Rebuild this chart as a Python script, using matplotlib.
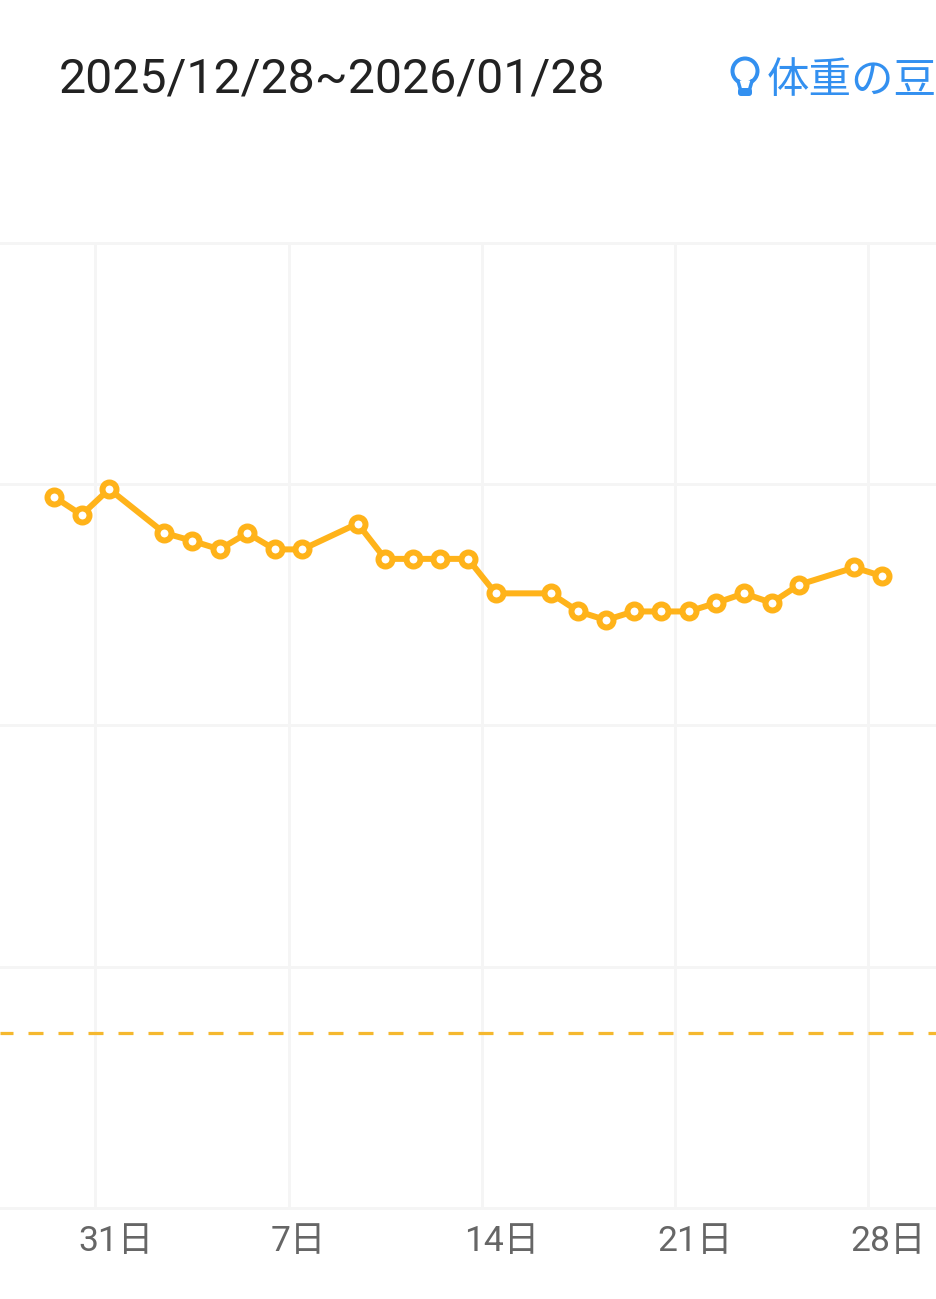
import matplotlib
matplotlib.use("Agg")
import matplotlib.pyplot as plt
from matplotlib.patches import Circle, FancyBboxPatch, Rectangle

date_range = "2025/12/28~2026/01/28"
link_text = "体重の豆"

# days counted from Dec 31 (Jan 7 = 7)
days = [-2, -1, 0, 2, 3, 4, 5, 6, 7, 9, 10, 11, 12, 13, 14, 16, 17, 18,
        19, 20, 21, 22, 23, 24, 25, 27, 28]
weights = [63.85, 63.64, 63.94, 63.43, 63.34, 63.24, 63.43, 63.24, 63.24,
           63.54, 63.13, 63.13, 63.13, 63.13, 62.73, 62.73, 62.52, 62.42,
           62.52, 62.52, 62.52, 62.62, 62.73, 62.62, 62.83, 63.03, 62.93]
target_weight = 57.635

tick_days = [0, 7, 14, 21, 28]
tick_labels = ["31日", "7日", "14日", "21日", "28日"]
y_grid = [55.6, 58.4, 61.2, 64.0, 66.8]

W, H = 936, 1299
px = 0.72
ORANGE = "#FFB31A"
GRID = "#F5F5F5"
BLUE = "#3390F0"
FONTS = ["Roboto", "Noto Sans CJK JP", "DejaVu Sans"]


def main():
    plt.rcParams["font.family"] = FONTS
    fig = plt.figure(figsize=(W / 100, H / 100), dpi=100, facecolor="white")
    ax = fig.add_axes([0, (H - 1208) / H, 1, (1208 - 242.5) / H])
    ax.set_xlim(-95.4 / 27.6, (W - 95.4) / 27.6)
    ax.set_ylim(55.6, 66.8)
    for s in ax.spines.values():
        s.set_visible(False)
    ax.tick_params(left=False, bottom=False, labelleft=False, labelbottom=False)

    for d in tick_days:
        ax.axvline(d, color=GRID, lw=3 * px, zorder=1)
    for v in y_grid:
        ax.axhline(v, color=GRID, lw=3 * px, zorder=1, clip_on=False)

    dash_lw = 3.2
    ax.plot([ax.get_xlim()[0], ax.get_xlim()[1]], [target_weight] * 2,
            color="#F5B82E", lw=dash_lw * px, dash_capstyle="butt",
            linestyle=(2 / dash_lw, (15 / dash_lw, 15 / dash_lw)), zorder=2)

    # each reading sits in the middle of its day
    x = [d + 0.5 for d in days]
    ax.plot(x, weights, color=ORANGE, lw=6 * px, marker="o", ms=14 * px,
            mew=6 * px, mfc="white", mec=ORANGE, zorder=3, clip_on=False)

    for d, lab in zip(tick_days, tick_labels):
        ax.annotate(lab, (d, 0), xycoords=("data", "axes fraction"),
                    xytext=(-17.5 * px, -43 * px), textcoords="offset points",
                    ha="left", va="baseline", fontsize=35.5 * px, color="#666666")

    fig.text(59 / W, 1 - 92 / H, date_range, fontsize=48.2 * px, color="#222222",
             ha="left", va="baseline")
    fig.text(767 / W, 1 - 93 / H, link_text, fontsize=42.5 * px, color=BLUE,
             ha="left", va="baseline")

    # light bulb icon
    icon = fig.add_axes([0, 0, 1, 1], facecolor="none")
    icon.set_xlim(0, W)
    icon.set_ylim(H, 0)
    icon.axis("off")
    icon.add_patch(Circle((745, 71), 12.5, fc="none", ec=BLUE, lw=4 * px))
    icon.add_patch(Rectangle((739, 81), 12, 7, fc="white", ec="none"))
    icon.plot([738, 740], [81, 88], color=BLUE, lw=3.5 * px)
    icon.plot([752, 750], [81, 88], color=BLUE, lw=3.5 * px)
    icon.add_patch(FancyBboxPatch((738, 88), 14, 8, boxstyle="round,pad=0,rounding_size=3",
                                  fc=BLUE, ec="none"))

    fig.savefig("out.png", dpi=100)


if __name__ == "__main__":
    main()
